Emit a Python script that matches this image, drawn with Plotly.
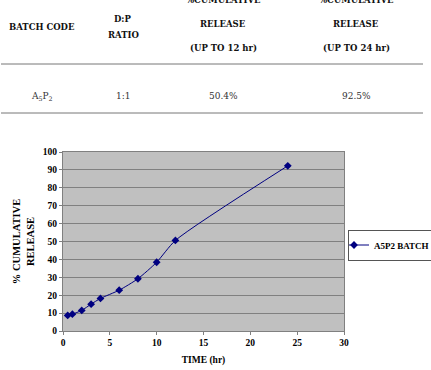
import plotly.graph_objects as go

time_hr = [0.5, 1, 2, 3, 4, 6, 8, 10, 12, 24]
release = [8.7, 9.4, 11.5, 15.0, 18.2, 22.8, 29.2, 38.4, 50.6, 92.3]
series_name = "A5P2 BATCH"

table_headers = [["BATCH CODE"], ["D:P", "RATIO"], ["%CUMULATIVE", "RELEASE", "(UP TO 12 hr)"],
                 ["%CUMULATIVE", "RELEASE", "(UP TO 24 hr)"]]
table_row = ["A<sub>5</sub>P<sub>2</sub>", "1:1", "50.4%", "92.5%"]

W, H = 431, 370
L, R, T, B = 63, 344, 152, 331


def px(x):
    return (x - L) / (R - L)


def py(y):
    return (B - y) / (B - T)


fig = go.Figure()
fig.add_trace(go.Scatter(
    x=time_hr, y=release, mode="lines+markers", name=series_name,
    line=dict(color="#000080", width=1, shape="spline", smoothing=0.6),
    marker=dict(symbol="diamond", size=6, color="#000080"),
))

ann = []
col_x = [42, 123, 223, 356]
tfont = dict(family="DejaVu Serif", size=8.5, color="#111")
hdr_y = {1: [27], 2: [19, 35], 3: [0, 24, 48]}
for cx, lines in zip(col_x, table_headers):
    ys = hdr_y[len(lines)]
    for txt, yy in zip(lines, ys):
        ann.append(dict(x=px(cx), y=py(yy), xref="paper", yref="paper", text="<b>%s</b>" % txt,
                        showarrow=False, font=tfont, xanchor="center", yanchor="middle"))
for cx, txt in zip(col_x, table_row):
    ann.append(dict(x=px(cx), y=py(96), xref="paper", yref="paper", text=txt,
                    showarrow=False, font=dict(family="DejaVu Serif", size=9, color="#333"),
                    xanchor="center", yanchor="middle"))

shapes = []
for yy in [64, 113]:
    shapes.append(dict(type="line", xref="paper", yref="paper", x0=px(1), x1=px(423), y0=py(yy), y1=py(yy),
                       line=dict(color="#777", width=1)))

fig.update_layout(
    width=W, height=H,
    margin=dict(l=L, r=W - R, t=T, b=H - B, autoexpand=False),
    paper_bgcolor="white", plot_bgcolor="#C0C0C0",
    font=dict(family="Liberation Serif", size=9, color="black"),
    annotations=ann, shapes=shapes,
    showlegend=True,
    legend=dict(x=px(348), y=py(245), xanchor="left", yanchor="middle",
                bgcolor="white", bordercolor="#555", borderwidth=1,
                font=dict(family="Liberation Serif", size=9, color="black", weight="bold"),
                itemwidth=30, indentation=-15, tracegroupgap=0),
    xaxis=dict(range=[0, 30], dtick=5, showgrid=False, zeroline=False,
               showline=True, linecolor="#808080", mirror=True,
               ticks="outside", ticklen=3, tickcolor="#808080",
               tickfont=dict(family="Liberation Serif", size=9.5, color="black", weight="bold"),
               title=dict(text="<b>TIME (hr)</b>", font=dict(family="Liberation Serif", size=9.5), standoff=8)),
    yaxis=dict(range=[0, 100], dtick=10, showgrid=True, gridcolor="#808080", gridwidth=1, zeroline=False,
               showline=True, linecolor="#808080", mirror=True,
               ticks="outside", ticklen=3, tickcolor="#808080",
               tickfont=dict(family="Liberation Serif", size=9.5, color="black", weight="bold"),
               title=dict(text="<b>% CUMULATIVE<br>RELEASE</b>", font=dict(family="Liberation Serif", size=10.5), standoff=6)),
)

fig.write_html("out.html")
